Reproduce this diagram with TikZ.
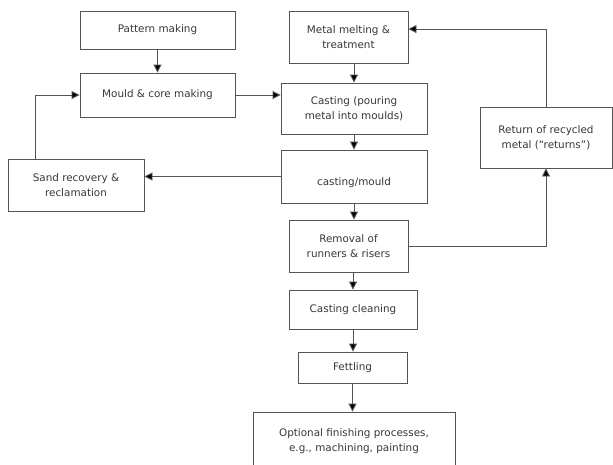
\documentclass[tikz,border=0pt]{standalone}
\usepackage{fontspec}
\setmainfont{DejaVu Sans}
\usetikzlibrary{arrows.meta}
\definecolor{linec}{HTML}{555555}
\definecolor{textc}{HTML}{383838}
\tikzset{
  box/.style={draw=linec, line width=0.9pt, fill=white, align=center, inner sep=2pt,
    font=\fontsize{10.4}{15.5}\selectfont, text=textc},
  arr/.style={draw=linec, line width=0.9pt, -{Triangle[length=8pt,width=8pt,fill=black]}}
}
\begin{document}
\begin{tikzpicture}[x=1pt,y=-1pt]
\useasboundingbox (0,0) rectangle (613,464);
\fill[white] (0,0) rectangle (613,464);
\begin{scope}
\clip (0,0) rectangle (613,464);
\node[box, minimum width=155pt, minimum height=38pt] (pat) at (157.5,30) {Pattern making};
\node[box, minimum width=155pt, minimum height=44pt] (mould) at (157.5,95) {Mould \& core making};
\node[box, minimum width=136pt, minimum height=52pt] (sand) at (76,185) {Sand recovery \&\\reclamation};
\node[box, minimum width=119pt, minimum height=52pt] (melt) at (348.5,37) {Metal melting \&\\treatment};
\node[box, minimum width=146pt, minimum height=51pt] (cast) at (354,108.5) {Casting (pouring\\metal into moulds)};
\node[box, minimum width=146pt, minimum height=53pt, text height=17pt, text depth=0pt] (cm) at (354,176.5) {casting/mould};
\node[box, minimum width=132pt, minimum height=61pt] (ret) at (546,137.5) {Return of recycled\\metal (“returns”)};
\node[box, minimum width=119pt, minimum height=52pt] (rem) at (348.5,246) {Removal of\\runners \& risers};
\node[box, minimum width=128pt, minimum height=39pt] (clean) at (353,309.5) {Casting cleaning};
\node[box, minimum width=109pt, minimum height=31pt] (fet) at (352.5,367.5) {Fettling};
\node[box, minimum width=202pt, minimum height=58pt] (opt) at (354,441) {Optional finishing processes,\\e.g., machining, painting};
\end{scope}
\draw[arr] (pat.south) -- (mould.north);
\draw[arr] (mould.east) -- (mould.east -| cast.west);
\draw[arr] ([xshift=-41pt]sand.north) |- (mould.west);
\draw[arr] (melt.south -| cast.north) -- (cast.north);
\draw[arr] (cast.south) -- (cm.north);
\draw[arr] (cm.south) -- (cm.south |- rem.north);
\draw[arr] (cm.west) -- (cm.west -| sand.east);
\draw[arr] (rem.east) -| (ret.south);
\draw[arr] (ret.north) |- ([yshift=8pt]melt.east);
\draw[arr] (rem.south -| clean.north) -- (clean.north);
\draw[arr] (clean.south) -- (clean.south |- fet.north);
\draw[arr] (fet.south) -- (fet.south |- opt.north);
\end{tikzpicture}
\end{document}
